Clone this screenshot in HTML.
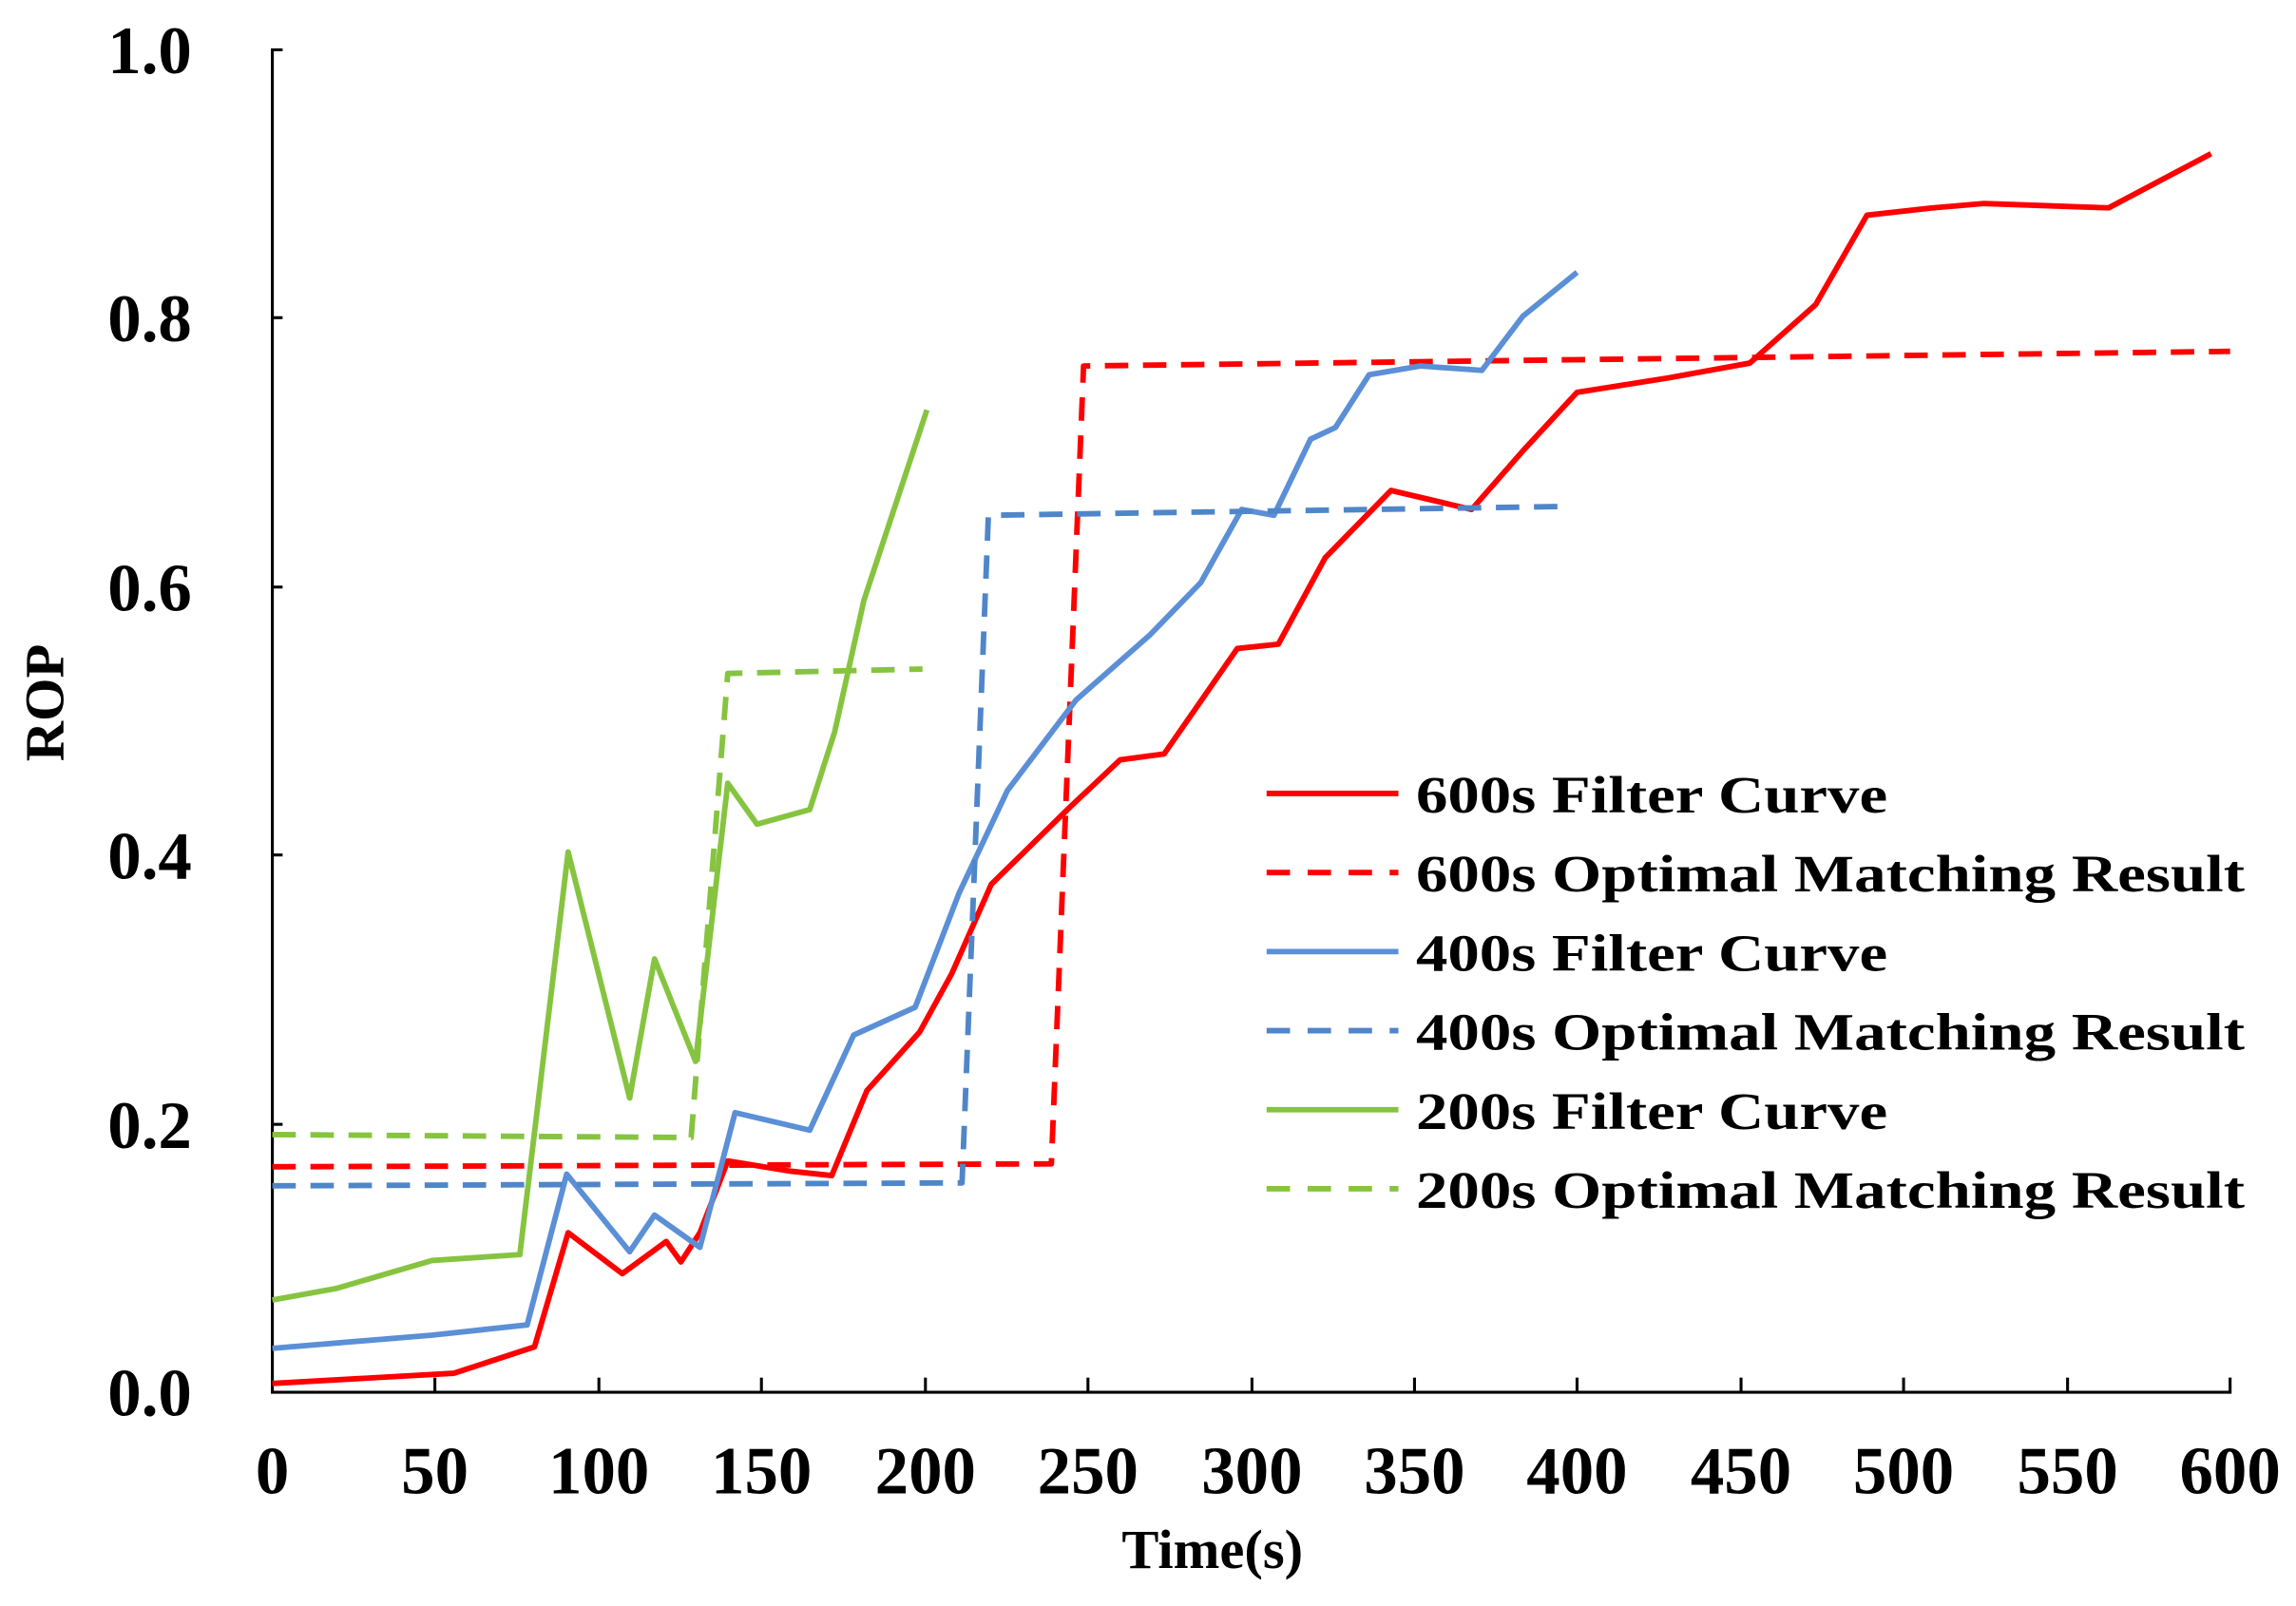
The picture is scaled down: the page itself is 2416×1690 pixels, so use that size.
<!DOCTYPE html>
<html><head><meta charset="utf-8"><style>html,body{margin:0;padding:0;background:#fff;}svg{display:block}</style></head>
<body>
<svg width="2416" height="1690" viewBox="0 0 1568 1097" preserveAspectRatio="none" xmlns="http://www.w3.org/2000/svg">
<rect width="1568" height="1097" fill="#fff"/>
<g stroke="#000" stroke-width="2" fill="none">
<polyline points="193,34 186,34 186,951 1523,951 1523,941"/>
<line x1="186" y1="217" x2="193" y2="217"/>
<line x1="186" y1="401" x2="193" y2="401"/>
<line x1="186" y1="584" x2="193" y2="584"/>
<line x1="186" y1="768" x2="193" y2="768"/>
<line x1="297" y1="951" x2="297" y2="941"/><line x1="409" y1="951" x2="409" y2="941"/><line x1="520" y1="951" x2="520" y2="941"/><line x1="632" y1="951" x2="632" y2="941"/><line x1="743" y1="951" x2="743" y2="941"/><line x1="855" y1="951" x2="855" y2="941"/><line x1="966" y1="951" x2="966" y2="941"/><line x1="1077" y1="951" x2="1077" y2="941"/><line x1="1189" y1="951" x2="1189" y2="941"/><line x1="1300" y1="951" x2="1300" y2="941"/><line x1="1412" y1="951" x2="1412" y2="941"/>
</g>
<g font-family="Liberation Serif, serif" font-weight="bold" font-size="46" fill="#000">
<g text-anchor="end">
<text x="131" y="50">1.0</text><text x="131" y="233">0.8</text><text x="131" y="417">0.6</text><text x="131" y="600">0.4</text><text x="131" y="784">0.2</text><text x="131" y="967">0.0</text>
</g>
<g text-anchor="middle">
<text x="186" y="1020">0</text><text x="297" y="1020">50</text><text x="409" y="1020">100</text><text x="520" y="1020">150</text><text x="632" y="1020">200</text><text x="743" y="1020">250</text><text x="855" y="1020">300</text><text x="966" y="1020">350</text><text x="1077" y="1020">400</text><text x="1189" y="1020">450</text><text x="1300" y="1020">500</text><text x="1412" y="1020">550</text><text x="1523" y="1020">600</text>
</g>
<text x="828" y="1071" text-anchor="middle" font-size="38">Time(s)</text>
<text transform="translate(43,480) rotate(-90)" text-anchor="middle" font-size="38">ROP</text>
</g>
<g fill="none" stroke-width="3.8" stroke-linejoin="round">
<polyline stroke="#ff0000" points="186,945 310,938 365,920 388,842 425,870 455,848 465,862 478,842 497,793 540,800 568,803 592,745 628,705 650,665 677,604 730,552 765,519 795,515 845,443 873,440 905,381 950,335 1005,348 1040,308 1077,268 1140,258 1195,248 1240,208 1275,147 1320,142 1355,139 1440,142 1510,105"/>
<polyline stroke="#ff0000" stroke-dasharray="16,10" points="186,797 718,795 740,250 1523,240"/>
<polyline stroke="#5b8fd6" points="186,921 295,912 360,905 387,802 430,855 447,830 478,852 502,760 553,772 583,707 625,688 655,610 688,540 735,478 785,434 820,398 848,348 870,352 895,300 912,292 935,256 970,250 1012,253 1040,216 1077,186"/>
<polyline stroke="#4f86c9" stroke-dasharray="16,10" points="186,810 657,808 675,352 1065,346"/>
<polyline stroke="#86c440" points="186,888 230,880 295,861 355,857 388,582 430,750 447,655 475,725 497,535 517,563 553,553 570,500 590,410 633,280"/>
<polyline stroke="#86c440" stroke-dasharray="16,10" points="186,775 472,777 497,460 630,457"/>
<line x1="865" y1="542" x2="955" y2="542" stroke="#ff0000"/>
<line x1="865" y1="596" x2="955" y2="596" stroke="#ff0000" stroke-dasharray="16,12"/>
<line x1="865" y1="650" x2="955" y2="650" stroke="#5b8fd6"/>
<line x1="865" y1="704" x2="955" y2="704" stroke="#4f86c9" stroke-dasharray="16,12"/>
<line x1="865" y1="758" x2="955" y2="758" stroke="#86c440"/>
<line x1="865" y1="812" x2="955" y2="812" stroke="#86c440" stroke-dasharray="16,12"/>
</g>
<g font-family="Liberation Serif, serif" font-weight="bold" font-size="36" fill="#000">
<text x="967" y="555" textLength="322" lengthAdjust="spacingAndGlyphs">600s Filter Curve</text>
<text x="967" y="609" textLength="566" lengthAdjust="spacingAndGlyphs">600s Optimal Matching Result</text>
<text x="967" y="663" textLength="322" lengthAdjust="spacingAndGlyphs">400s Filter Curve</text>
<text x="967" y="717" textLength="566" lengthAdjust="spacingAndGlyphs">400s Optimal Matching Result</text>
<text x="967" y="771" textLength="322" lengthAdjust="spacingAndGlyphs">200s Filter Curve</text>
<text x="967" y="825" textLength="566" lengthAdjust="spacingAndGlyphs">200s Optimal Matching Result</text>
</g>
</svg>
</body></html>
